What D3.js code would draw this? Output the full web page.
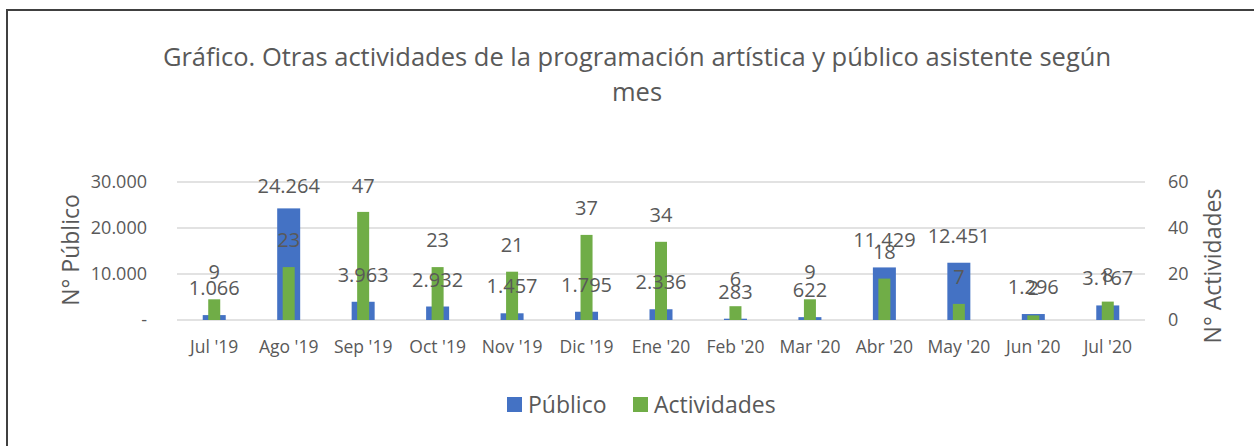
<!DOCTYPE html>
<html>
<head>
<meta charset="utf-8">
<script src="https://cdn.jsdelivr.net/npm/d3@7"></script>
<style>
  body { margin: 0; background: #fff; }
  svg text { font-family: "Open Sans", sans-serif; fill: #595959; }
</style>
</head>
<body>
<div class="chart"></div>
<script>
var months = ["Jul '19","Ago '19","Sep '19","Oct '19","Nov '19","Dic '19","Ene '20","Feb '20","Mar '20","Abr '20","May '20","Jun '20","Jul '20"];
var publico = [1066, 24264, 3963, 2932, 1457, 1795, 2336, 283, 622, 11429, 12451, 1296, 3167];
var actividades = [9, 23, 47, 23, 21, 37, 34, 6, 9, 18, 7, 2, 8];
var leftTicks = [0, 10000, 20000, 30000];
var rightTicks = [0, 20, 40, 60];

var w = 1254, h = 446;
var plot = {left: 177, right: 1145, top: 182, bottom: 320};

var svg = d3.select("div.chart").append("svg")
    .attr("width", w).attr("height", h);

// outer border of the chart
svg.append("rect")
    .attr("x", 7).attr("y", 10)
    .attr("width", w + 10).attr("height", h + 10)
    .attr("fill", "none").attr("stroke", "#404040").attr("stroke-width", 2);

// title
var title = svg.append("text")
    .attr("text-anchor", "middle")
    .style("font-size", "25.5px");
title.append("tspan").attr("x", 637).attr("y", 66)
    .text("Gráfico. Otras actividades de la programación artística y público asistente según");
title.append("tspan").attr("x", 637).attr("y", 101).text("mes");

var x = d3.scaleBand().domain(months).range([plot.left, plot.right]);
var yL = d3.scaleLinear().domain([0, 30000]).range([plot.bottom, plot.top]);
var yR = d3.scaleLinear().domain([0, 60]).range([plot.bottom, plot.top]);

var fmt = function(v){ return v === 0 ? "-" : d3.format(",")(v).replace(/,/g, "."); };

// gridlines
svg.append("g").selectAll("line").data(leftTicks).join("line")
    .attr("x1", plot.left).attr("x2", plot.right)
    .attr("y1", d => yL(d)).attr("y2", d => yL(d))
    .attr("stroke", "#d9d9d9").attr("stroke-width", 1.3);

// left axis
var axL = svg.append("g").attr("transform", `translate(${plot.left - 27},0)`)
    .call(d3.axisLeft(yL).tickValues(leftTicks).tickFormat(fmt).tickSize(0));
axL.select(".domain").remove();
axL.selectAll("text").style("font-size", "18px").attr("fill", "#595959");

// right axis
var axR = svg.append("g").attr("transform", `translate(${plot.right + 20},0)`)
    .call(d3.axisRight(yR).tickValues(rightTicks).tickSize(0));
axR.select(".domain").remove();
axR.selectAll("text").style("font-size", "18px").attr("fill", "#595959");

// x axis
var axX = svg.append("g").attr("transform", `translate(0,${plot.bottom + 12})`)
    .call(d3.axisBottom(x).tickSize(0));
axX.select(".domain").remove();
axX.selectAll("text").style("font-size", "17.5px").attr("fill", "#595959").attr("dy", "1.05em");

// axis titles
svg.append("text").attr("transform", "translate(71,250) rotate(-90)")
    .attr("text-anchor", "middle").attr("dy", "0.35em").style("font-size", "23px").text("N° Público");
svg.append("text").attr("transform", "translate(1213,266) rotate(-90)")
    .attr("text-anchor", "middle").attr("dy", "0.35em").style("font-size", "23px").text("N° Actividades");

// bars
var bwBlue = 23, bwGreen = 12;
svg.append("g").selectAll("rect").data(publico).join("rect")
    .attr("x", (d, i) => x(months[i]) + x.bandwidth() / 2 - bwBlue / 2)
    .attr("y", d => yL(d))
    .attr("width", bwBlue)
    .attr("height", d => plot.bottom - yL(d))
    .attr("fill", "#4472c4");

svg.append("g").selectAll("rect").data(actividades).join("rect")
    .attr("x", (d, i) => x(months[i]) + x.bandwidth() / 2 - bwGreen / 2)
    .attr("y", d => yR(d))
    .attr("width", bwGreen)
    .attr("height", d => plot.bottom - yR(d))
    .attr("fill", "#70ad47");

// data labels (kept inside the plot area at the top)
var labelY = function(top){ return Math.max(top - 20, plot.top + 11); };
svg.append("g").selectAll("text").data(publico).join("text")
    .attr("x", (d, i) => x(months[i]) + x.bandwidth() / 2)
    .attr("y", d => labelY(yL(d)))
    .attr("text-anchor", "middle")
    .style("font-size", "20px").attr("fill", "#404040")
    .text(d => fmt(d));

svg.append("g").selectAll("text").data(actividades).join("text")
    .attr("x", (d, i) => x(months[i]) + x.bandwidth() / 2)
    .attr("y", d => labelY(yR(d)))
    .attr("text-anchor", "middle")
    .style("font-size", "20px").attr("fill", "#404040")
    .text(d => d);

// legend
var legend = [{name: "Público", color: "#4472c4", x: 507}, {name: "Actividades", color: "#70ad47", x: 633}];
var lg = svg.append("g").selectAll("g").data(legend).join("g")
    .attr("transform", d => `translate(${d.x},397)`);
lg.append("rect").attr("width", 15).attr("height", 15).attr("fill", d => d.color);
lg.append("text").attr("x", 21).attr("y", 16).style("font-size", "23px").text(d => d.name);
</script>
</body>
</html>
